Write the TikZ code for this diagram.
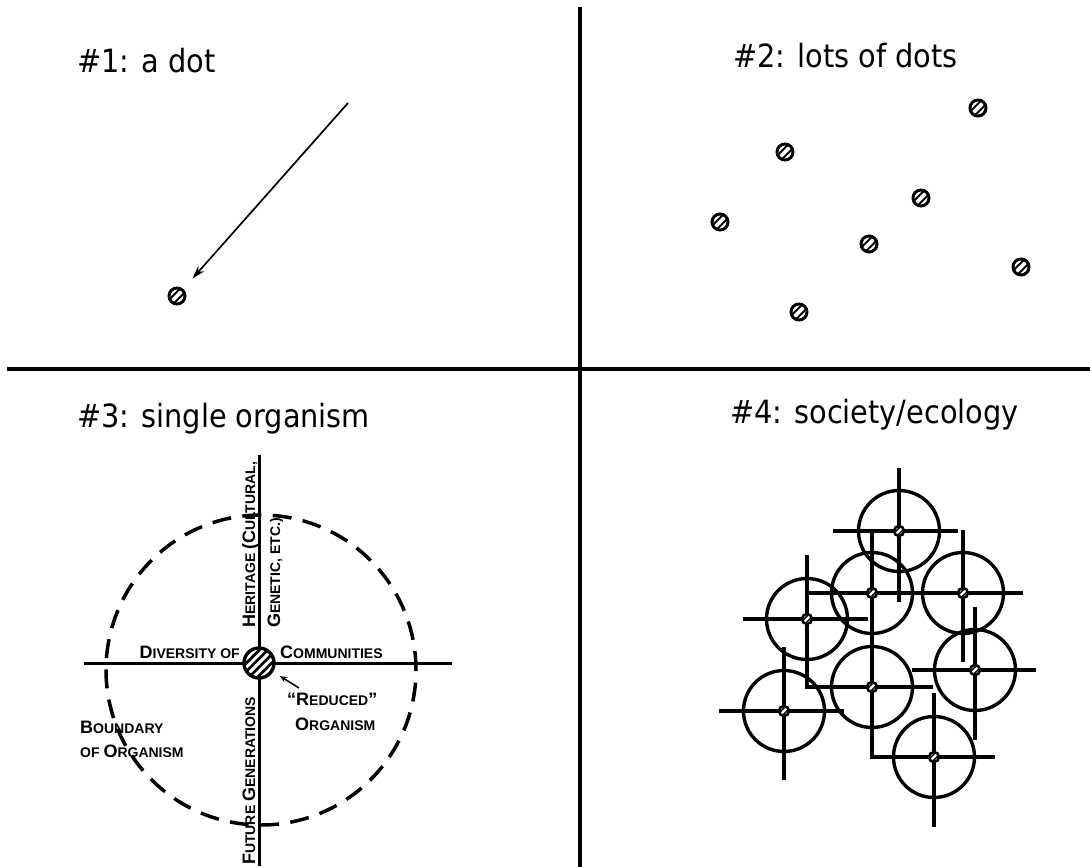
\documentclass[tikz,border=0pt]{standalone}
\usepackage{fontspec}
\usetikzlibrary{arrows.meta}
\newfontfamily\titlefont{DejaVu Sans Condensed}
\newfontfamily\lblfont{Liberation Sans}
\newcommand\capsc[2]{{\fontsize{18pt}{18pt}\selectfont #1}{\fontsize{14pt}{14pt}\selectfont #2}}
\tikzset{
  divider/.style={line width=3.4pt},
  pointer/.style={-{Stealth[length=13pt, width=8pt]}, line width=1.7pt},
  smallpointer/.style={-{Stealth[length=7pt, width=6pt]}, line width=1.5pt},
  hatchline/.style={line width=1.9pt},
  hatch/.style={path picture={
    \foreach \o in {#1}
      \draw[hatchline] ([xshift=\o*0.7071pt-20pt, yshift=-\o*0.7071pt-20pt]path picture bounding box.center) -- ++(40pt,40pt);}},
  hdot/.style={circle, draw, fill=white, inner sep=0pt, line width=3pt, minimum size=16pt,
    hatchline/.style={line width=2pt}, hatch={-3,3}},
  orgdot/.style={circle, draw, fill=white, inner sep=0pt, line width=3.4pt, minimum size=30pt,
    hatchline/.style={line width=2.8pt}, hatch={-9,-3,3,9}},
  tinydot/.style={circle, draw, fill=white, inner sep=0pt, line width=2.6pt, minimum size=10pt,
    hatchline/.style={line width=1.5pt}, hatch={-2,2}},
  ring/.style={circle, draw, inner sep=0pt, line width=3.4pt, minimum size=81pt},
  axis/.style={line width=3pt},
  web/.style={line width=3.4pt},
  boundary/.style={line width=3.5pt, dash pattern=on 19pt off 11.4pt},
  title/.style={anchor=base west, inner sep=0pt, font=\titlefont\fontsize{32pt}{32pt}\selectfont},
  lbl/.style={anchor=base west, inner sep=0pt, font=\lblfont\bfseries}
}
\begin{document}
\begin{tikzpicture}[x=1pt, y=-1pt]
\useasboundingbox[fill=white] (0,0) rectangle (1090,867);
% frame
\draw[divider] (580,7) -- (580,867);
\draw[divider] (7,369) -- (1090,369);
\node[title] (t1) at (77,73) {\#1: a dot};
\node[title] (t2) at (733,67) {\#2: lots of dots};
\node[title] (t3) at (77,427) {\#3: single organism};
\node[title] (t4) at (730,423) {\#4: society/ecology};

% #1
\node[hdot] (dot) at (177,296) {};
\coordinate (tail) at (348,103);
\draw[pointer, shorten >=14pt] (tail) -- (dot);

% #2
\node[hdot] (d1) at (978,108) {};
\node[hdot] (d2) at (785,152) {};
\node[hdot] (d3) at (921,198) {};
\node[hdot] (d4) at (720,222) {};
\node[hdot] (d5) at (869,244) {};
\node[hdot] (d6) at (1021,267) {};
\node[hdot] (d7) at (799,312) {};

% #3
\coordinate (c3) at (259,663);
\draw[axis] (84,663) -- (452,663);
\draw[axis] (259,455) -- (259,866);
\draw[boundary] (261,670) circle[radius=155pt];
\node[orgdot] (org) at (c3) {};
\node[lbl, anchor=base east] (div) at (240,658) {\capsc{D}{IVERSITY OF}};
\node[lbl] (com) at (280,658) {\capsc{C}{OMMUNITIES}};
\node[lbl, rotate=90] (her) at (255,628) {\capsc{H}{ERITAGE }\capsc{(C}{ULTURAL,}};
\node[lbl, rotate=90] (gen) at (280,628) {\capsc{G}{ENETIC, ETC.)}};
\node[lbl, rotate=90] (fut) at (255,865) {\capsc{F}{UTURE }\capsc{G}{ENERATIONS}};
\node[lbl] (red) at (287,705) {\capsc{“R}{EDUCED}\capsc{”}{}};
\node[lbl] (orgn) at (295,730) {\capsc{O}{RGANISM}};
\node[lbl] (bnd) at (80,733) {\capsc{B}{OUNDARY}};
\node[lbl] (bndo) at (80,757) {\capsc{}{OF }\capsc{O}{RGANISM}};
\coordinate (redtail) at (299,688);
\draw[smallpointer, shorten >=8pt] (redtail) -- (org);

% #4
\coordinate (pA) at (899,531);
\coordinate (pB) at (872,593);
\coordinate (pC) at (963,593);
\coordinate (pD) at (872,687);
\coordinate (pE) at (807,619);
\coordinate (pF) at (934,757);
\coordinate (pG) at (975,670);
\coordinate (pH) at (784,711);
\draw[web] (pA) ++(0,-63) -- ++(0,134);
\draw[web] (pA) ++(-66,0) -- ++(125,0);
\draw[web] (pB) ++(0,-62) -- (pB |- pF) -- ++(123,0);
\draw[web] (pB) ++(-64,0) -- ++(215,0);
\draw[web] (pE) ++(0,-64) -- (pE |- pD) -- ++(126,0);
\draw[web] (pE) ++(-64,0) -- ++(125,0);
\draw[web] (pC) ++(0,-63) -- ++(0,132);
\draw[web] (pG) ++(0,-63) -- ++(0,133);
\draw[web] (pG) ++(-63,0) -- ++(124,0);
\draw[web] (pH) ++(0,-64) -- ++(0,133);
\draw[web] (pH) ++(-65,0) -- ++(125,0);
\draw[web] (pF) ++(0,-64) -- ++(0,134);
\node[ring] (rA) at (pA) {};
\node[ring] (rB) at (pB) {};
\node[ring] (rC) at (pC) {};
\node[ring] (rD) at (pD) {};
\node[ring] (rE) at (pE) {};
\node[ring] (rF) at (pF) {};
\node[ring] (rG) at (pG) {};
\node[ring] (rH) at (pH) {};
\node[tinydot] (sA) at (pA) {};
\node[tinydot] (sB) at (pB) {};
\node[tinydot] (sC) at (pC) {};
\node[tinydot] (sD) at (pD) {};
\node[tinydot] (sE) at (pE) {};
\node[tinydot] (sF) at (pF) {};
\node[tinydot] (sG) at (pG) {};
\node[tinydot] (sH) at (pH) {};
\end{tikzpicture}
\end{document}
